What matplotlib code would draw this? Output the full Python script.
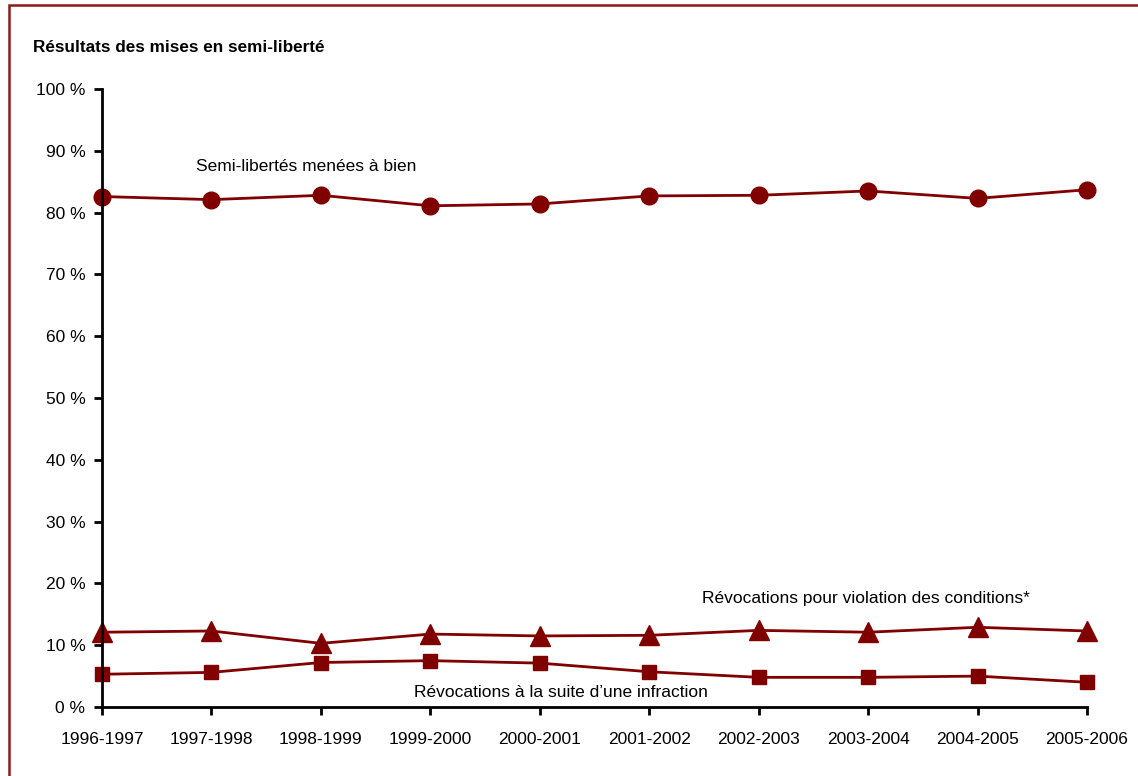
import numpy as np
import matplotlib.pyplot as plt
from matplotlib.patches import Rectangle

plt.rcParams['font.family'] = ['Liberation Sans Narrow', 'Liberation Sans', 'DejaVu Sans']

# annees
annees = ['1996-1997', '1997-1998', '1998-1999', '1999-2000', '2000-2001',
          '2001-2002', '2002-2003', '2003-2004', '2004-2005', '2005-2006']
# pourcentages
menees_a_bien = [82.6, 82.1, 82.8, 81.1, 81.4, 82.7, 82.8, 83.5, 82.3, 83.7]
violation = [12.1, 12.3, 10.3, 11.8, 11.5, 11.6, 12.4, 12.1, 12.9, 12.3]
infraction = [5.3, 5.6, 7.2, 7.5, 7.1, 5.7, 4.8, 4.8, 5.0, 4.0]
yticks = np.arange(0, 101, 10)

rouge = '#800000'
fs = 12.5

fig = plt.figure(figsize=(11.38, 7.76), dpi=100)
ax = fig.add_axes([102 / 1138, 1 - 707 / 776, (1087 - 102) / 1138, (707 - 89) / 776])

x = np.arange(len(annees))
ax.plot(x, menees_a_bien, color=rouge, lw=2, marker='o', ms=12, clip_on=False)
ax.plot(x, violation, color=rouge, lw=2, marker='^', ms=14, clip_on=False)
ax.plot(x, infraction, color=rouge, lw=2, marker='s', ms=10, clip_on=False)

ax.set_xlim(0, len(annees) - 1)
ax.set_ylim(0, 100)
ax.set_xticks(x)
ax.set_xticklabels(annees)
ax.set_yticks(yticks)
ax.set_yticklabels(['%d %%' % v for v in yticks])
ax.tick_params(labelsize=fs, length=6, width=2, color='black', pad=6)
ax.tick_params(axis='x', pad=12)

for s in ['top', 'right']:
    ax.spines[s].set_visible(False)
for s in ['left', 'bottom']:
    ax.spines[s].set_linewidth(2)

# etiquettes des series
ax.text(1.87, 87.5, 'Semi-libertés menées à bien', fontsize=fs, ha='center', va='center')
ax.text(6.98, 17.6, 'Révocations pour violation des conditions*', fontsize=fs,
        ha='center', va='center')
ax.text(4.19, 2.3, 'Révocations à la suite d\u2019une infraction', fontsize=fs,
        ha='center', va='center')

fig.text(33 / 1138, 1 - 47 / 776, 'Résultats des mises en semi-liberté',
         fontsize=12.3, fontweight='bold', ha='left', va='center')

# cadre (ne ferme pas a droite ni en bas dans l'image)
fig.patches.append(Rectangle((9 / 1138, -0.1), 1.2, 1.1 - 5 / 776,
                             transform=fig.transFigure, fill=False,
                             edgecolor='#8B1A1A', lw=1.8, clip_on=False))

fig.savefig('out.png', dpi=100)
